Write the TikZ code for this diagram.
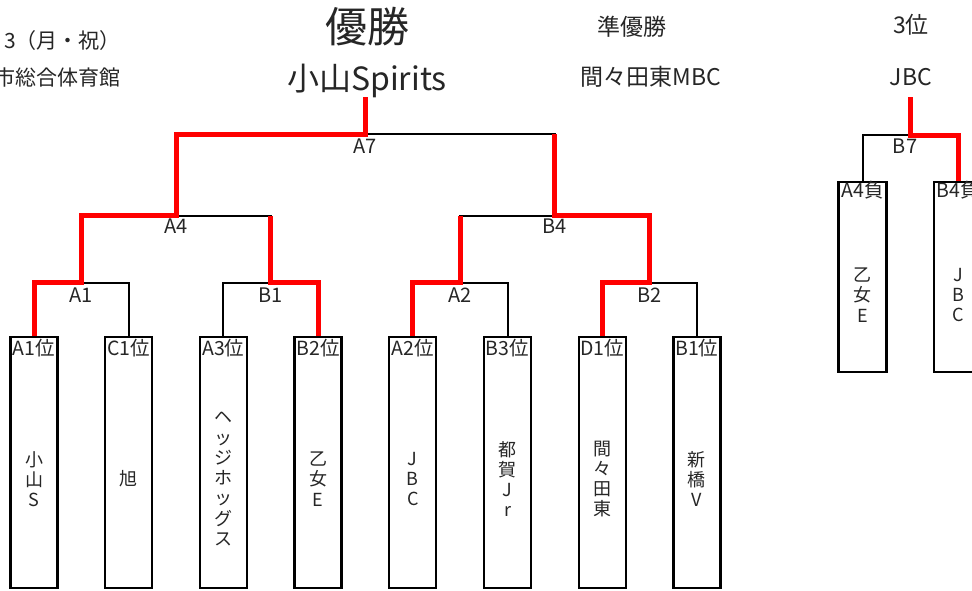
\documentclass[tikz,border=0pt]{standalone}
\usepackage{fontspec}
\setmainfont{Noto Sans CJK JP}
\definecolor{txt}{HTML}{262626}
\begin{document}
\begin{tikzpicture}[x=1pt,y=-1pt,
  bk/.style={draw=black, line width=2pt},
  rd/.style={draw=red, line width=5pt, line join=miter},
  teambox/.style={draw=black, line width=2.3pt, minimum width=47pt, minimum height=251pt, inner sep=0pt, fill=white},
  smallbox/.style={draw=black, line width=2.3pt, minimum width=48pt, minimum height=190pt, inner sep=0pt, fill=white},
  boxlabel/.style={font=\fontsize{19.5}{20}\selectfont, anchor=base, inner sep=0pt, text=txt},
  namestyle/.style={font=\fontsize{18}{20.3}\selectfont, align=center, inner sep=0pt, text=txt},
  mlabel/.style={font=\fontsize{20}{20}\selectfont, anchor=base, inner sep=0pt, text=txt},
  ttl/.style={anchor=base, inner sep=0pt, text=txt},
]
\useasboundingbox (0,0) rectangle (972,590);

% titles
\node[ttl, font=\fontsize{42}{42}\selectfont] (champT) at (367,42) {優勝};
\node[ttl, font=\fontsize{32}{32}\selectfont] (champ) at (367,90) {小山Spirits};
\node[ttl, font=\fontsize{23}{23}\selectfont] (runT) at (632,35) {準優勝};
\node[ttl, font=\fontsize{23}{23}\selectfont] (run) at (651,85) {間々田東MBC};
\node[ttl, font=\fontsize{23}{23}\selectfont] (thirdT) at (911,33) {3位};
\node[ttl, font=\fontsize{23}{23}\selectfont] (third) at (911,85) {JBC};
\node[ttl, anchor=base east, font=\fontsize{21}{21}\selectfont] (date) at (121,48) {3（月・祝）};
\node[ttl, anchor=base east, font=\fontsize{21}{21}\selectfont] (venue) at (121,85) {市総合体育館};

% team boxes
\node[teambox] (t1) at (34,462.5) {};
\node[teambox] (t2) at (128.7,462.5) {};
\node[teambox] (t3) at (223.4,462.5) {};
\node[teambox] (t4) at (318.1,462.5) {};
\node[teambox] (t5) at (412.8,462.5) {};
\node[teambox] (t6) at (507.5,462.5) {};
\node[teambox] (t7) at (602.2,462.5) {};
\node[teambox] (t8) at (696.9,462.5) {};
\node[smallbox] (r1) at (862.5,277) {};
\node[smallbox] (r2) at (958,277) {};

\node[boxlabel] (t1l) at (34,355) {A1位};
\node[boxlabel] (t2l) at (128.7,355) {C1位};
\node[boxlabel] (t3l) at (223.4,355) {A3位};
\node[boxlabel] (t4l) at (318.1,355) {B2位};
\node[boxlabel] (t5l) at (412.8,355) {A2位};
\node[boxlabel] (t6l) at (507.5,355) {B3位};
\node[boxlabel] (t7l) at (602.2,355) {D1位};
\node[boxlabel] (t8l) at (696.9,355) {B1位};
\node[boxlabel] (r1l) at (862.5,197) {A4負};
\node[boxlabel] (r2l) at (958,197) {B4負};

\node[namestyle] (t1n) at (34,479) {小\\山\\S};
\node[namestyle] (t2n) at (128.7,479) {旭};
\node[namestyle] (t3n) at (223.4,479) {ヘ\\ッ\\ジ\\ホ\\ッ\\グ\\ス};
\node[namestyle] (t4n) at (318.1,479) {乙\\女\\E};
\node[namestyle] (t5n) at (412.8,479) {J\\B\\C};
\node[namestyle] (t6n) at (507.5,479) {都\\賀\\J\\r};
\node[namestyle] (t7n) at (602.2,479) {間\\々\\田\\東};
\node[namestyle] (t8n) at (696.9,479) {新\\橋\\V};
\node[namestyle] (r1n) at (862.5,295) {乙\\女\\E};
\node[namestyle] (r2n) at (958,295) {J\\B\\C};

% match points
\coordinate (mA1) at (81.35,282.7);
\coordinate (mB1) at (270.75,282.7);
\coordinate (mA2) at (460.15,282.7);
\coordinate (mB2) at (649.55,282.7);
\coordinate (mA4) at (176.05,215.7);
\coordinate (mB4) at (554.85,215.7);
\coordinate (mA7) at (365.45,134);
\coordinate (win) at (365.45,97);
\coordinate (mB7) at (910,135);
\coordinate (win3) at (910,97);

% black bracket
\draw[bk] (t1.north) |- (mA1) -| (t2.north);
\draw[bk] (t3.north) |- (mB1) -| (t4.north);
\draw[bk] (t5.north) |- (mA2) -| (t6.north);
\draw[bk] (t7.north) |- (mB2) -| (t8.north);
\draw[bk] (mA1) |- (mA4) -| (mB1);
\draw[bk] (mA2) |- (mB4) -| (mB2);
\draw[bk] (mA4) |- (mA7) -| (mB4);
\draw[bk] (r1.north) |- (mB7) -| (r2.north);

% winners in red
\draw[rd] (t1.north) |- (mA1) |- (mA4) |- (mA7) -- (win);
\draw[rd] (t4.north) |- (mB1) -- (mB1 |- mA4);
\draw[rd] (t5.north) |- (mA2) -- (mA2 |- mB4);
\draw[rd] (t7.north) |- (mB2) |- (mB4) -- (mB4 |- mA7);
\draw[rd] (r2.north) |- (mB7) -- (win3);

% match labels
\node[mlabel] (lA1) at ([yshift=-19.5pt]mA1) {A1};
\node[mlabel] (lB1) at ([yshift=-19.5pt]mB1) {B1};
\node[mlabel] (lA2) at ([yshift=-19.5pt]mA2) {A2};
\node[mlabel] (lB2) at ([yshift=-19.5pt]mB2) {B2};
\node[mlabel] (lA4) at ([yshift=-18pt]mA4) {A4};
\node[mlabel] (lB4) at ([yshift=-18pt]mB4) {B4};
\node[mlabel] (lA7) at ([yshift=-19.5pt]mA7) {A7};
\node[mlabel] (lB7) at ([yshift=-18.5pt,xshift=-5pt]mB7) {B7};
\end{tikzpicture}
\end{document}
